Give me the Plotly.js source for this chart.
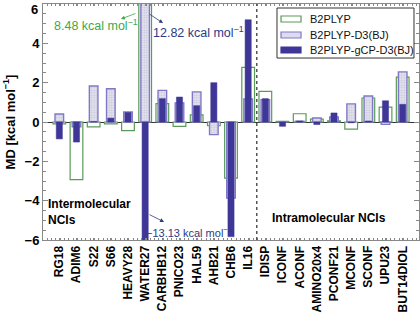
<!DOCTYPE html>
<html>
<head>
<meta charset="utf-8">
<script src="https://cdn.plot.ly/plotly-3.0.1.min.js"></script>
<style>html,body{margin:0;padding:0;background:#fff;}#chart{width:420px;height:317px;}</style>
</head>
<body>
<div id="chart"></div>
<script>
const categories = ["RG18","ADIM6","S22","S66","HEAVY28","WATER27","CARBHB12","PNICO23","HAL59","AHB21","CHB6","IL16","IDISP","ICONF","ACONF","AMINO20x4","PCONF21","MCONF","SCONF","UPU23","BUT14DIOL"];
const b2plyp =      [-0.10,-2.93,-0.25,-0.10,-0.44, 8.48, 0.93,-0.22,0.36,-0.19,-2.85,2.78,1.56, 0.03,0.42, 0.15,0.06,-0.36,1.22, 0.76,2.28];
const b2plypD3 =    [ 0.41,-0.25, 1.83, 1.69, 0.51,12.82, 1.61, 0.97,1.53,-0.64,-3.87,1.17,1.13, 0.02,0.04, 0.20,0.26, 0.92,1.32,-0.12,2.55];
const b2plypGcpD3 = [-0.86,-1.02, 0.02, 0.20, 0.48,-13.13,1.19, 1.27,0.83, 2.00,-5.83,5.20,1.19,-0.22,0.05,-0.13,0.46,-0.04,0.05, 1.08,0.90];
const seriesNames = ["B2PLYP","B2PLYP-D3(BJ)","B2PLYP-gCP-D3(BJ)"];
const yTickVals = [-6,-4,-2,0,2,4,6];
const yTickText = ["−6","−4","−2","0","2","4",""];
const yTopLabel = "6";

const xIdx = categories.map((c,i)=>i);
const FONT = "Liberation Sans, Arial, Helvetica, sans-serif";
const DARK = "#3f3797";
const NAVY = "#2b3a85";
const GREEN = "#5a9a5a";
const HATCH_LINE = "#8078c6";
const HATCH_FILL = "#e0e0ec";

const traces = [
  {type:"bar", name:seriesNames[0], x:xIdx, y:b2plyp, width:0.74,
   marker:{color:"rgba(255,255,255,1)", line:{color:GREEN, width:1.2}}},
  {type:"bar", name:seriesNames[1], x:xIdx, y:b2plypD3, width:0.5,
   marker:{color:HATCH_FILL, pattern:{shape:".", fgcolor:"#c2c2d8", bgcolor:"#e6e6f0", size:2.5, solidity:0.4},
           line:{color:HATCH_LINE, width:1.4}}},
  {type:"bar", name:seriesNames[2], x:xIdx, y:b2plypGcpD3, width:0.36,
   marker:{color:DARK, line:{color:DARK, width:0.5}}}
];

// custom legend (paper coordinates)
const legX0 = 0.6223, legX1 = 0.9867, legY0 = 0.771, legY1 = 0.983;
const rowY = [0.9364, 0.8686, 0.8051];
const swX0 = 0.6330, swX1 = 0.6862, swH = 0.0127;
const swatchStyles = [
  {fill:"#ffffff", line:GREEN},
  {fill:"#dcdcec", line:HATCH_LINE},
  {fill:DARK, line:DARK}
];

const shapes = [
  {type:"line", xref:"x", yref:"paper", x0:11.5, x1:11.5, y0:0, y1:1,
   line:{color:"#555", width:1.5, dash:"dot"}},
  {type:"rect", xref:"paper", yref:"paper", x0:legX0, x1:legX1, y0:legY0, y1:legY1,
   fillcolor:"#fff", line:{color:"#333", width:1}, layer:"above"}
];
swatchStyles.forEach((s,i)=>{
  shapes.push({type:"rect", xref:"paper", yref:"paper", x0:swX0, x1:swX1,
    y0:rowY[i]-swH, y1:rowY[i]+swH, fillcolor:s.fill, line:{color:s.line, width:1.2}, layer:"above"});
});

const annotations = [
  {xref:"paper", yref:"paper", x:-0.008, y:1, xanchor:"right", yanchor:"top", yshift:4,
   text:yTopLabel, showarrow:false, font:{size:13, family:FONT, weight:"bold", color:"#000"}},
  {xref:"x", yref:"y", x:2.11, y:4.93, text:"8.48 kcal mol<sup>−1</sup>", showarrow:false,
   font:{size:12.5, color:"#3aaa4a", family:FONT}},
  {xref:"x", yref:"y", x:3.59, y:5.24, text:"", showarrow:true, ax:16, ay:-6,
   arrowcolor:"#3aaa4a", arrowwidth:0.8, arrowhead:2, arrowsize:1},
  {xref:"x", yref:"y", x:8.08, y:4.58, text:"12.82 kcal mol<sup>−1</sup>", showarrow:false,
   font:{size:12.5, color:NAVY, family:FONT}},
  {xref:"x", yref:"y", x:6.04, y:5.03, text:"", showarrow:true, ax:-15, ay:-10,
   arrowcolor:NAVY, arrowwidth:0.8, arrowhead:2, arrowsize:1},
  {xref:"x", yref:"y", x:7.55, y:-5.59, text:"−13.13 kcal mol<sup>−1</sup>", showarrow:false,
   font:{size:11, color:NAVY, family:FONT}},
  {xref:"x", yref:"y", x:6.1, y:-5.08, text:"", showarrow:true, ax:-16, ay:-8,
   arrowcolor:NAVY, arrowwidth:0.8, arrowhead:2, arrowsize:1},
  {xref:"x", yref:"y", x:-0.78, y:-4.58, xanchor:"left", align:"left",
   text:"Intermolecular<br>NCIs", showarrow:false,
   font:{size:12, family:FONT, weight:"bold", color:"#000"}},
  {xref:"x", yref:"y", x:15.68, y:-4.88, text:"Intramolecular NCIs", showarrow:false,
   font:{size:12, family:FONT, weight:"bold", color:"#000"}}
];
seriesNames.forEach((n,i)=>{
  annotations.push({xref:"paper", yref:"paper", x:0.7048, y:rowY[i], xanchor:"left", yanchor:"middle",
    text:n, showarrow:false, font:{size:11, family:FONT, color:"#111"}});
});

const layout = {
  width:420, height:317,
  margin:{l:43, r:1, t:4, b:77},
  paper_bgcolor:"#fff", plot_bgcolor:"#fff",
  barmode:"overlay",
  font:{family:FONT, color:"#000"},
  showlegend:false,
  xaxis:{range:[-0.95,20.95], tickmode:"array", tickvals:xIdx, ticktext:categories,
         tickangle:-90, tickfont:{size:12, family:FONT, weight:"bold"},
         showline:true, linecolor:"#888", linewidth:1, mirror:"ticks",
         ticks:"inside", ticklen:2, tickcolor:"#888", showgrid:false, zeroline:false,
         minor:{dtick:0.25, tick0:-0.95, ticks:"inside", ticklen:2, tickcolor:"#888"}},
  yaxis:{range:[-6,6], tickmode:"array", tickvals:yTickVals, ticktext:yTickText,
         tickfont:{size:13, family:FONT, weight:"bold"},
         showline:true, linecolor:"#888", linewidth:1, mirror:"ticks",
         ticks:"inside", ticklen:5, tickcolor:"#888", showgrid:false,
         zeroline:true, zerolinecolor:"#333", zerolinewidth:1,
         minor:{dtick:0.5, ticks:"inside", ticklen:3, tickcolor:"#888"},
         title:{text:"MD [kcal mol<sup>−1</sup>]", font:{size:13, family:FONT, weight:"bold"}, standoff:6}},
  shapes:shapes,
  annotations:annotations
};

Plotly.newPlot("chart", traces, layout, {displayModeBar:false, staticPlot:true});
</script>
</body>
</html>
